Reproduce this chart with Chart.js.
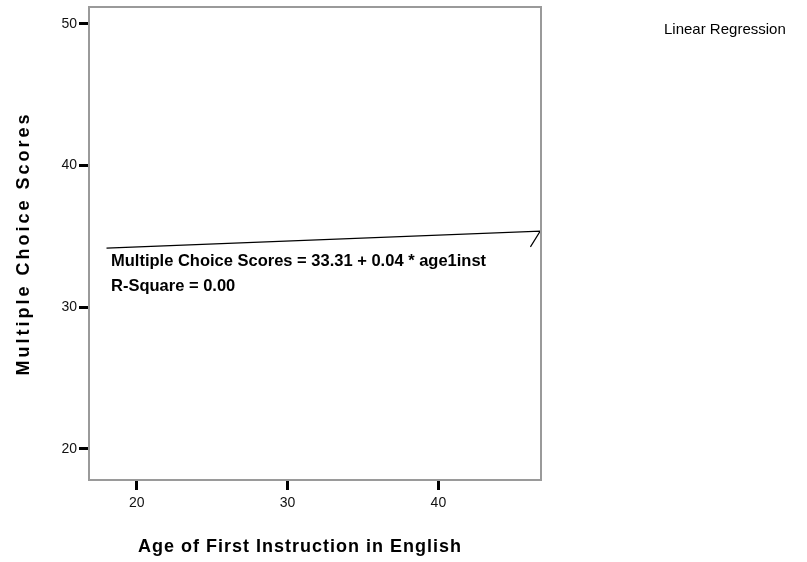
<!DOCTYPE html>
<html>
<head>
<meta charset="utf-8">
<script src="https://cdn.jsdelivr.net/npm/chart.js@4"></script>
<style>
  html,body{margin:0;padding:0;background:#fff;}
  #wrap{width:807px;height:562px;position:relative;}
</style>
</head>
<body>
<div id="wrap"><canvas id="c" width="807" height="562"></canvas></div>
<script>
// ---- data ----
const xTickValues = [20, 30, 40];
const yTickValues = [20, 30, 40, 50];
const fitX = [18.0, 46.75, 46.1];      // fitted line (with SPSS end artefact)
const fitY = [34.17, 35.37, 34.26];
const xTitle = 'Age of First Instruction in English';
const yTitle = 'Multiple Choice Scores';
const legendLabel = 'Linear Regression';
const eqLine1 = 'Multiple Choice Scores = 33.31 + 0.04 * age1inst';
const eqLine2 = 'R-Square = 0.00';

const FONT = '"Liberation Sans", Arial, sans-serif';

const framePlugin = {
  id: 'frame',
  afterDraw(chart) {
    const {ctx, chartArea: a} = chart;
    ctx.save();
    ctx.strokeStyle = '#9a9a9a';
    ctx.lineWidth = 2;
    ctx.strokeRect(a.left, a.top, a.right - a.left, a.bottom - a.top);
    // annotation text
    ctx.fillStyle = '#000';
    ctx.font = 'bold 16.5px ' + FONT;
    ctx.textBaseline = 'alphabetic';
    ctx.textAlign = 'left';
    ctx.fillText(eqLine1, 111, 266);
    ctx.fillText(eqLine2, 111, 291);
    // legend text
    ctx.font = '15px ' + FONT;
    ctx.fillText(legendLabel, 664, 34);
    // axis titles
    ctx.font = 'bold 18px ' + FONT;
    ctx.textAlign = 'center';
    ctx.textBaseline = 'middle';
    ctx.letterSpacing = '1px';
    ctx.fillText(xTitle, 300, 547);
    ctx.letterSpacing = '3px';
    ctx.translate(24, (a.top + a.bottom) / 2);
    ctx.rotate(-Math.PI / 2);
    ctx.fillText(yTitle, 0, 0);
    ctx.restore();
  }
};

new Chart(document.getElementById('c'), {
  type: 'scatter',
  data: {
    datasets: [{
      data: fitX.map((x, i) => ({x, y: fitY[i]})),
      showLine: true,
      borderColor: '#000',
      borderWidth: 1.2,
      pointRadius: 0,
      fill: false,
      tension: 0
    }]
  },
  options: {
    responsive: false,
    animation: false,
    devicePixelRatio: 1,
    layout: {padding: {left: 0, right: 266, top: 7, bottom: 0}},
    plugins: {legend: {display: false}, tooltip: {enabled: false}},
    scales: {
      x: {
        type: 'linear',
        min: 16.84,
        max: 46.8,
        afterBuildTicks: s => { s.ticks = xTickValues.map(v => ({value: v})); },
        afterFit: s => { s.height = 82; s.paddingLeft = 0; s.paddingRight = 0; },
        grid: {drawOnChartArea: false, drawTicks: true, tickLength: 10, tickWidth: 3, tickColor: '#000'},
        border: {display: true, color: '#9a9a9a', width: 2},
        ticks: {color: '#111', font: {family: FONT, size: 14}, padding: 5, maxRotation: 0}
      },
      y: {
        type: 'linear',
        min: 17.79,
        max: 51.2,
        afterBuildTicks: s => { s.ticks = yTickValues.map(v => ({value: v})); },
        afterFit: s => { s.width = 89; s.paddingTop = 0; s.paddingBottom = 0; },
        grid: {drawOnChartArea: false, drawTicks: true, tickLength: 10, tickWidth: 3, tickColor: '#000'},
        border: {display: true, color: '#9a9a9a', width: 2},
        ticks: {color: '#111', font: {family: FONT, size: 14}, padding: 2}
      }
    }
  },
  plugins: [framePlugin]
});
</script>
</body>
</html>
